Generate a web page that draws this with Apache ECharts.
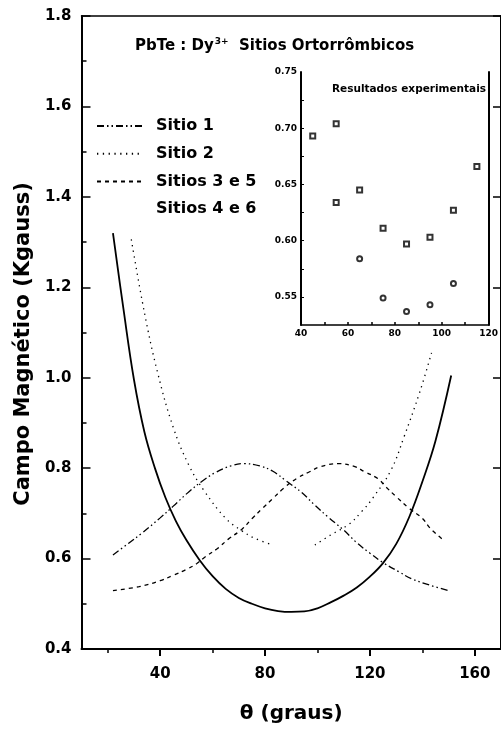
<!DOCTYPE html>
<html>
<head>
<meta charset="utf-8">
<script src="https://cdn.jsdelivr.net/npm/echarts@6/dist/echarts.min.js"></script>
<style>
html,body{margin:0;padding:0;background:#fff;}
#chart{width:501px;height:729px;}
</style>
</head>
<body>
<div id="chart"></div>
<script>
// ---- data ----
const seriesNames = ['Sitio 1', 'Sitio 2', 'Sitios 3 e 5', 'Sitios 4 e 6'];

const sitio1X = [22, 28, 33, 40, 45, 51, 56, 61, 67, 72, 78, 83, 88, 94, 99, 104, 110, 115, 120, 125, 131, 136, 143, 150];
const sitio1Y = [0.608, 0.634, 0.656, 0.690, 0.716, 0.748, 0.771, 0.790, 0.805, 0.810, 0.805, 0.793, 0.772, 0.746, 0.718, 0.692, 0.663, 0.635, 0.612, 0.591, 0.571, 0.555, 0.541, 0.529];

const sitio2X = [29, 34, 39, 45, 51, 57, 65, 71, 76, 83, 91, 99, 105, 112, 117, 121, 128, 133, 139, 143.5];
const sitio2Y = [1.306, 1.144, 1.012, 0.890, 0.806, 0.748, 0.689, 0.662, 0.645, 0.630, '-', 0.630, 0.652, 0.676, 0.705, 0.733, 0.795, 0.869, 0.968, 1.055];

const sitio35X = [22, 32, 40, 45, 50, 54, 57, 62, 66, 71, 75, 79, 83, 87, 92, 97, 101, 108, 114, 118, 123, 126, 130, 135, 140, 143, 148];
const sitio35Y = [0.529, 0.538, 0.551, 0.563, 0.576, 0.589, 0.603, 0.623, 0.643, 0.664, 0.688, 0.711, 0.733, 0.755, 0.777, 0.792, 0.803, 0.810, 0.804, 0.792, 0.777, 0.759, 0.737, 0.711, 0.689, 0.667, 0.641];

const sitio46X = [22, 26, 30, 34, 38, 42, 46, 50, 55, 60, 65, 70, 75, 80, 85, 90, 95, 100, 105, 110, 115, 120, 125, 130, 135, 140, 145, 151];
const sitio46Y = [1.320, 1.152, 0.996, 0.880, 0.800, 0.735, 0.683, 0.641, 0.597, 0.561, 0.533, 0.513, 0.500, 0.490, 0.484, 0.482, 0.483, 0.490, 0.503, 0.518, 0.536, 0.560, 0.590, 0.632, 0.692, 0.770, 0.860, 1.005];

// inset: experimental results
const expSqX = [45, 55, 55, 65, 75, 85, 95, 105, 115];
const expSqY = [0.693, 0.704, 0.634, 0.645, 0.611, 0.597, 0.603, 0.627, 0.666];
const expCiX = [65, 75, 85, 95, 105];
const expCiY = [0.584, 0.549, 0.537, 0.543, 0.562];

const xMajorTicks = [40, 80, 120, 160];
const xMinorTicks = [20, 60, 100, 140];
const insetXTicks = [40, 60, 80, 100, 120];
const insetYTicks = [0.55, 0.60, 0.65, 0.70, 0.75];

// ---- build ----
const zip = (xs, ys) => xs.map((x, i) => [x, ys[i]]);
const FONT = 'DejaVu Sans';
const chart = echarts.init(document.getElementById('chart'), null, {renderer: 'canvas'});

const lineSeries = (name, xs, ys, type, width) => ({
  name, type: 'line', xAxisIndex: 0, yAxisIndex: 0,
  data: zip(xs, ys), symbol: 'none', showSymbol: false, smooth: 0.4,
  connectNulls: false, animation: false,
  itemStyle: {color: '#000'},
  lineStyle: {color: '#000', width: width, type: type}
});

const option = {
  backgroundColor: '#fff',
  animation: false,
  title: {
    left: 130, top: 32,
    text: '{a|PbTe : Dy}{s|3+}{a|  Sitios Ortorrômbicos}',
    textStyle: {
      rich: {
        a: {fontFamily: FONT, fontWeight: 'bold', fontSize: 15, color: '#000'},
        s: {fontFamily: FONT, fontWeight: 'bold', fontSize: 9, color: '#000', padding: [0, 0, 9, 1]}
      }
    }
  },
  legend: {
    orient: 'vertical', left: 91, top: 112,
    itemWidth: 46, itemHeight: 14, itemGap: 9.7,
    itemStyle: {opacity: 0, borderWidth: 0},
    textStyle: {fontFamily: FONT, fontWeight: 'bold', fontSize: 16, color: '#000', lineHeight: 18, padding: [0, 0, 0, 8]},
    data: [
      {name: 'Sitio 1'},
      {name: 'Sitio 2'},
      {name: 'Sitios 3 e 5'},
      {name: 'Sitios 4 e 6', icon: 'none'}
    ],
    selectedMode: false
  },
  grid: [
    {left: 81.5, right: -3, top: 16, bottom: 78},
    {left: 301, right: 8, top: 72, bottom: 404}
  ],
  xAxis: [
    {
      gridIndex: 0, type: 'value', min: 10, max: 170, position: 'bottom',
      name: 'θ (graus)', nameLocation: 'middle', nameGap: 55,
      nameTextStyle: {fontFamily: FONT, fontWeight: 'bold', fontSize: 20, color: '#000'},
      axisLine: {show: true, lineStyle: {color: '#000', width: 2}},
      axisTick: {show: true, inside: false, length: 7, customValues: xMajorTicks, lineStyle: {color: '#000', width: 2}},
      axisLabel: {show: true, customValues: xMajorTicks, margin: 18, fontFamily: FONT, fontWeight: 'bold', fontSize: 15, color: '#000'},
      splitLine: {show: false}
    },
    {
      gridIndex: 0, type: 'value', min: 10, max: 170, position: 'bottom',
      axisLine: {show: false},
      axisTick: {show: true, inside: false, length: 4, customValues: xMinorTicks, lineStyle: {color: '#000', width: 1.5}},
      axisLabel: {show: false}, splitLine: {show: false}
    },
    {
      gridIndex: 0, type: 'value', min: 10, max: 170, position: 'top',
      axisLine: {show: true, lineStyle: {color: '#000', width: 1.5}},
      axisTick: {show: false}, axisLabel: {show: false}, splitLine: {show: false}
    },
    {
      gridIndex: 1, type: 'value', min: 40, max: 120, position: 'bottom',
      axisLine: {show: true, lineStyle: {color: '#000', width: 1.5}},
      axisTick: {show: true, inside: true, length: 3, customValues: [50, 60, 70, 80, 90, 100, 110], lineStyle: {color: '#000', width: 1.5}},
      axisLabel: {show: true, customValues: insetXTicks, margin: 4, fontFamily: FONT, fontWeight: 'bold', fontSize: 9, color: '#000'},
      splitLine: {show: false}
    }
  ],
  yAxis: [
    {
      gridIndex: 0, type: 'value', min: 0.4, max: 1.8, interval: 0.2, position: 'left',
      axisLine: {show: true, lineStyle: {color: '#000', width: 2}},
      axisTick: {show: true, inside: true, length: 9, lineStyle: {color: '#000', width: 1.5}},
      minorTick: {show: true, splitNumber: 2, length: 5, lineStyle: {color: '#000', width: 1.5}},
      axisLabel: {margin: 10, fontFamily: FONT, fontWeight: 'bold', fontSize: 15, color: '#000', formatter: v => v.toFixed(1)},
      splitLine: {show: false}
    },
    {
      gridIndex: 0, type: 'value', min: 0.4, max: 1.8, interval: 0.2, position: 'right',
      axisLine: {show: true, lineStyle: {color: '#000', width: 2}},
      axisTick: {show: true, inside: true, length: 8, lineStyle: {color: '#000', width: 1.5}},
      axisLabel: {show: false}, splitLine: {show: false}
    },
    {
      gridIndex: 1, type: 'value', min: 0.525, max: 0.75, position: 'left',
      axisLine: {show: true, lineStyle: {color: '#000', width: 2}},
      axisTick: {show: true, inside: true, length: 3, customValues: [0.55, 0.575, 0.6, 0.625, 0.65, 0.675, 0.7, 0.725], lineStyle: {color: '#000', width: 1}},
      axisLabel: {show: true, customValues: insetYTicks, margin: 4, fontFamily: FONT, fontWeight: 'bold', fontSize: 9, color: '#000', formatter: v => v.toFixed(2)},
      splitLine: {show: false}
    },
    {
      gridIndex: 1, type: 'value', min: 0.525, max: 0.75, position: 'right',
      axisLine: {show: true, lineStyle: {color: '#000', width: 2}},
      axisTick: {show: false}, axisLabel: {show: false}, splitLine: {show: false}
    }
  ],
  graphic: [
    {
      type: 'text', x: 24, y: 344, rotation: Math.PI / 2,
      style: {text: 'Campo Magnético (Kgauss)', fontFamily: FONT, fontWeight: 'bold', fontSize: 21, fill: '#000', align: 'center', verticalAlign: 'middle'}
    },
    {
      type: 'text', x: 409, y: 89,
      style: {text: 'Resultados experimentais', fontFamily: FONT, fontWeight: 'bold', fontSize: 10.5, fill: '#000', align: 'center', verticalAlign: 'middle'}
    }
  ],
  series: [
    lineSeries(seriesNames[0], sitio1X, sitio1Y, [7, 3, 1.5, 3, 1.5, 3], 1.3),
    lineSeries(seriesNames[1], sitio2X, sitio2Y, [1.3, 4.5], 1.3),
    lineSeries(seriesNames[2], sitio35X, sitio35Y, [4, 4], 1.3),
    lineSeries(seriesNames[3], sitio46X, sitio46Y, 'solid', 1.8),
    {
      name: 'exp-sq', type: 'scatter', xAxisIndex: 3, yAxisIndex: 2,
      data: zip(expSqX, expSqY), symbol: 'emptyRect', symbolSize: 5,
      itemStyle: {color: '#000', borderColor: '#000', borderWidth: 1.3}
    },
    {
      name: 'exp-ci', type: 'scatter', xAxisIndex: 3, yAxisIndex: 2,
      data: zip(expCiX, expCiY), symbol: 'emptyCircle', symbolSize: 5,
      itemStyle: {color: '#000', borderColor: '#000', borderWidth: 1.3}
    }
  ]
};
chart.setOption(option);
</script>
</body>
</html>
